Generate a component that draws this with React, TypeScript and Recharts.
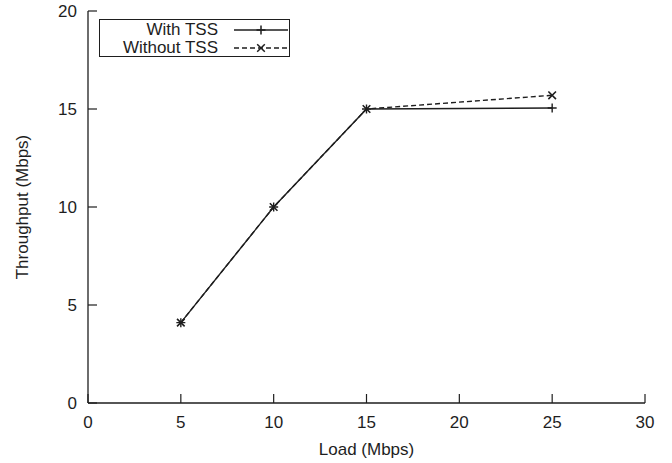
import React from "react";
import { LineChart, Line, XAxis, YAxis, Legend } from "recharts";

const loads = [5, 10, 15, 25];
const withTss = [4.1, 10, 15, 15.05];
const withoutTss = [4.1, 10, 15, 15.7];
const xTicks = [0, 5, 10, 15, 20, 25, 30];
const yTicks = [0, 5, 10, 15, 20];

const data = loads.map((load, i) => ({
  load,
  withTss: withTss[i],
  withoutTss: withoutTss[i],
}));

const INK = "#1e1e1e";
const FONT = "'Liberation Sans', Arial, Helvetica, sans-serif";
const TICK_LEN = 9;

const plusPath = (x: number, y: number, r: number) =>
  `M${x - r},${y}H${x + r}M${x},${y - r}V${y + r}`;
const crossPath = (x: number, y: number, r: number) =>
  `M${x - r},${y - r}L${x + r},${y + r}M${x - r},${y + r}L${x + r},${y - r}`;

const PlusDot = (props: any) => {
  const { cx, cy, index } = props;
  if (cx == null || cy == null) return <g key={`p${index}`} />;
  return <path key={`p${index}`} d={plusPath(cx, cy, 4.5)} stroke={INK} strokeWidth={1.4} fill="none" />;
};

const CrossDot = (props: any) => {
  const { cx, cy, index } = props;
  if (cx == null || cy == null) return <g key={`x${index}`} />;
  return <path key={`x${index}`} d={crossPath(cx, cy, 3.8)} stroke={INK} strokeWidth={1.6} fill="none" />;
};

const BottomTick = ({ x, y, payload }: any) => (
  <g>
    <line x1={x} x2={x} y1={y} y2={y - TICK_LEN} stroke={INK} strokeWidth={1.2} />
    <text x={x} y={y + 25} textAnchor="middle" fontSize={17} fill={INK} fontFamily={FONT}>
      {payload.value}
    </text>
  </g>
);

const LeftTick = ({ x, y, payload }: any) => (
  <g>
    <line x1={x} x2={x + TICK_LEN} y1={y} y2={y} stroke={INK} strokeWidth={1.2} />
    <text x={x - 11} y={y} dy="0.36em" textAnchor="end" fontSize={17} fill={INK} fontFamily={FONT}>
      {payload.value}
    </text>
  </g>
);

const TopTick = ({ x, y }: any) => (
  <line x1={x} x2={x} y1={y} y2={y + TICK_LEN} stroke={INK} strokeWidth={1.2} />
);

const RightTick = ({ x, y }: any) => (
  <line x1={x} x2={x - TICK_LEN} y1={y} y2={y} stroke={INK} strokeWidth={1.2} />
);

const series = [
  { key: "withTss", name: "With TSS", dash: undefined, marker: plusPath, r: 4.5 },
  { key: "withoutTss", name: "Without TSS", dash: "5 3", marker: crossPath, r: 3.8 },
];

const LegendBox = () => (
  <div
    style={{
      width: 191,
      height: 38,
      boxSizing: "border-box",
      border: `1.3px solid ${INK}`,
      background: "#fff",
      fontFamily: FONT,
      fontSize: 17,
      color: INK,
      paddingTop: 0.5,
    }}
  >
    {series.map((s) => (
      <div key={s.key} style={{ display: "flex", alignItems: "center", height: 18, overflow: "hidden" }}>
        <span
          style={{
            width: 118,
            flexShrink: 0,
            textAlign: "right",
            lineHeight: "17px",
            height: 17,
            whiteSpace: "nowrap",
          }}
        >
          {s.name}
        </span>
        <svg width={54} height={12} style={{ marginLeft: 16, flexShrink: 0 }}>
          <line x1={0} x2={54} y1={6} y2={6} stroke={INK} strokeWidth={1.3} strokeDasharray={s.dash} />
          <path d={s.marker(27, 6, s.r)} stroke={INK} strokeWidth={1.5} fill="none" />
        </svg>
      </div>
    ))}
  </div>
);

export default function App() {
  return (
    <div style={{ position: "absolute", left: 0, top: 0, background: "#fff" }}>
      <LineChart
        width={672}
        height={463}
        data={data}
        margin={{ top: 11, right: 27, bottom: 0, left: 0 }}
        style={{ fontFamily: FONT }}
      >
        <XAxis
          dataKey="load"
          type="number"
          domain={[0, 30]}
          ticks={xTicks}
          interval={0}
          height={60}
          tickSize={0}
          tickMargin={0}
          tickLine={false}
          axisLine={{ stroke: INK, strokeWidth: 1.3 }}
          tick={BottomTick}
          label={{
            content: ({ viewBox }: any) => (
              <text
                x={viewBox.x + viewBox.width / 2}
                y={viewBox.y + 52}
                textAnchor="middle"
                fontSize={17}
                fill={INK}
                fontFamily={FONT}
              >
                Load (Mbps)
              </text>
            ),
          }}
        />
        <XAxis
          xAxisId="top"
          orientation="top"
          dataKey="load"
          type="number"
          domain={[0, 30]}
          ticks={xTicks}
          interval={0}
          height={0}
          tickSize={0}
          tickMargin={0}
          tickLine={false}
          axisLine={{ stroke: INK, strokeWidth: 1.3 }}
          tick={TopTick}
        />
        <YAxis
          type="number"
          domain={[0, 20]}
          ticks={yTicks}
          interval={0}
          width={88}
          tickSize={0}
          tickMargin={0}
          tickLine={false}
          axisLine={{ stroke: INK, strokeWidth: 1.3 }}
          tick={LeftTick}
          label={{
            content: ({ viewBox }: any) => {
              const x = viewBox.x + 28;
              const y = viewBox.y + viewBox.height / 2;
              return (
                <text
                  x={x}
                  y={y}
                  transform={`rotate(-90, ${x}, ${y})`}
                  textAnchor="middle"
                  fontSize={17}
                  fill={INK}
                  fontFamily={FONT}
                >
                  Throughput (Mbps)
                </text>
              );
            },
          }}
        />
        <YAxis
          yAxisId="right"
          orientation="right"
          type="number"
          domain={[0, 20]}
          ticks={yTicks}
          interval={0}
          width={0}
          tickSize={0}
          tickMargin={0}
          tickLine={false}
          axisLine={{ stroke: INK, strokeWidth: 1.3 }}
          tick={RightTick}
        />
        <Legend
          layout="horizontal"
          verticalAlign="middle"
          align="center"
          wrapperStyle={{ left: 99, top: 19, width: 191, height: 38 }}
          content={() => <LegendBox />}
        />
        <Line
          dataKey="withTss"
          name="With TSS"
          stroke={INK}
          strokeWidth={1.4}
          dot={PlusDot}
          activeDot={false}
          isAnimationActive={false}
        />
        <Line
          dataKey="withoutTss"
          name="Without TSS"
          stroke={INK}
          strokeWidth={1.4}
          strokeDasharray="5 3"
          dot={CrossDot}
          activeDot={false}
          isAnimationActive={false}
        />
      </LineChart>
    </div>
  );
}
